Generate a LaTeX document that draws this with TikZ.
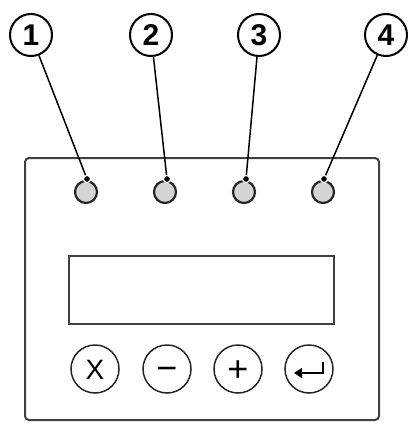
\documentclass[tikz,border=0pt]{standalone}
\usepackage{fontspec}
\setmainfont{Liberation Sans}
\usetikzlibrary{positioning,arrows.meta}
\tikzset{
  callout/.style={circle, draw=black, line width=2pt, minimum size=42pt, inner sep=0pt, text height=21.6pt, text depth=0pt, font=\fontsize{30}{30}\selectfont\bfseries},
  led/.style={circle, draw=black!85, line width=2.2pt, fill=black!17, minimum size=22pt, inner sep=0pt},
  btn/.style={circle, draw=black!85, line width=1.5pt, minimum size=48pt, inner sep=0pt, text height=20pt, text depth=0pt, font=\fontsize{28}{28}\selectfont},
  sign/.style={font=\fontsize{36}{36}\selectfont},
  lead/.style={line width=1.5pt, black},
  tipdot/.style={fill=black, draw=white, line width=1.2pt},
  panel/.style={draw=black!75, line width=2pt, rounded corners=4pt},
}
\begin{document}
\begin{tikzpicture}[x=1pt, y=-1pt]
  \useasboundingbox (0,0) rectangle (412,426);
  % front panel and display
  \draw[panel] (25,158) rectangle (379,420);
  \draw[draw=black!75, line width=1.8pt] (69,256) rectangle (334,324);
  % indicator lamps
  \node[led] (led1) at (86,192) {};
  \node[led] (led2) at (165,192) {};
  \node[led] (led3) at (244,192) {};
  \node[led] (led4) at (323,192) {};
  % numbered callouts
  \node[callout] (c1) at (31,35) {1};
  \node[callout] (c2) at (151,35) {2};
  \node[callout] (c3) at (259,35) {3};
  \node[callout] (c4) at (386,35) {4};
  \coordinate (d1) at (87,179);
  \coordinate (d2) at (167,179);
  \coordinate (d3) at (246,179);
  \coordinate (d4) at (324,179);
  \draw[lead] (c1) -- (d1);
  \draw[lead] (c2) -- (d2);
  \draw[lead] (c3) -- (d3);
  \draw[lead] (c4) -- (d4);
  \foreach \i in {1,...,4}
    \draw[tipdot] (d\i) circle (3.6pt);
  % keys
  \node[btn] (esc) at (95,369) {X};
  \node[btn, sign, text height=22.3pt] (dn) at (167,369) {−};
  \node[btn, sign, text height=25.5pt] (up) at (238,369) {+};
  \node[btn] (ent) at (309,369) {};
  \draw[line width=1.6pt, -{Triangle[length=8pt, width=10pt]}]
    ([xshift=14pt, yshift=7pt]ent.center) |- ([xshift=-15pt, yshift=-4pt]ent.center);
\end{tikzpicture}
\end{document}
